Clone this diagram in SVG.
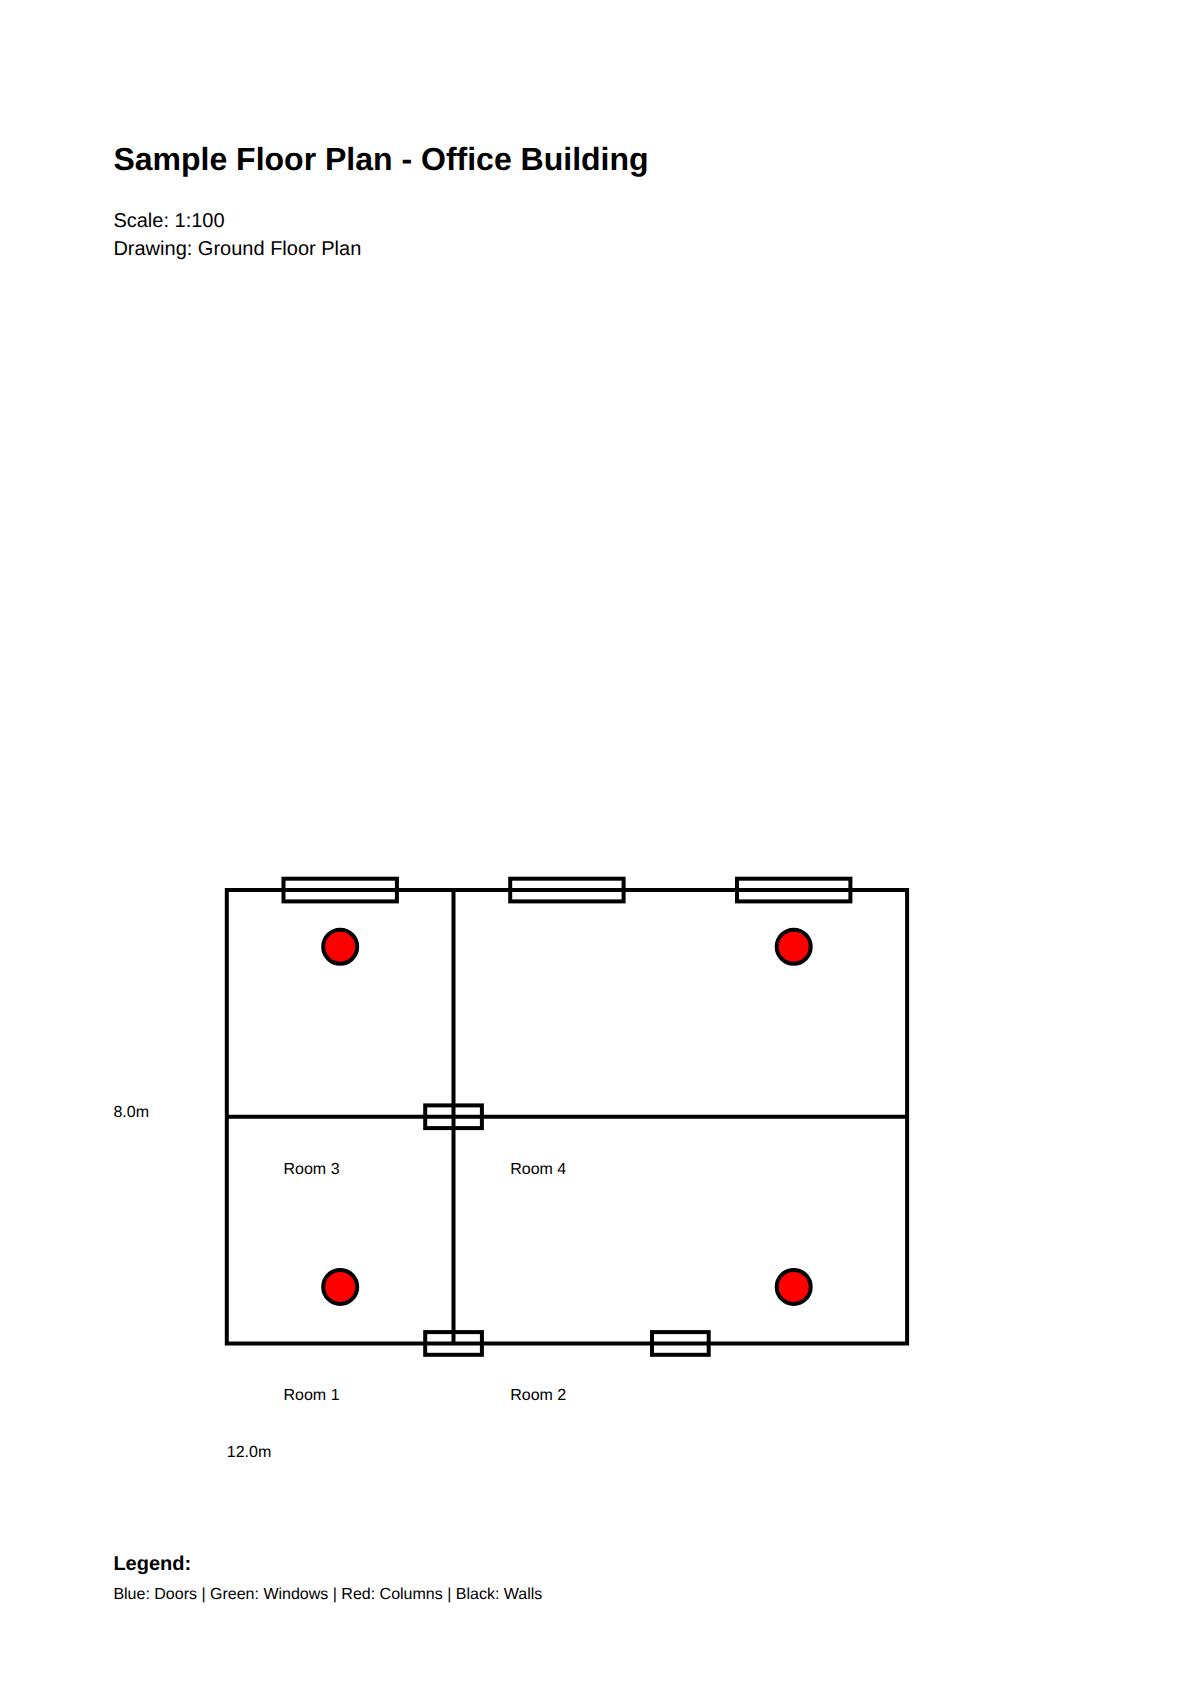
<svg xmlns="http://www.w3.org/2000/svg" width="1191" height="1684" viewBox="0 0 1191 1684">
<style>
text{font-family:"Liberation Sans",Arial,sans-serif;fill:#000;text-rendering:geometricPrecision}
.t{font-size:32px;font-weight:bold}
.s{font-size:20px}
.l{font-size:16px}
.h{font-size:20px;font-weight:bold}
.w{fill:none;stroke:#000;stroke-width:4}
.c{fill:#f00;stroke:#000;stroke-width:4}
</style>
<rect width="1191" height="1684" fill="#fff"/>
<text class="t" x="113.4" y="170">Sample Floor Plan - Office Building</text>
<text class="s" x="113.4" y="227">Scale: 1:100</text>
<text class="s" x="113.4" y="255">Drawing: Ground Floor Plan</text>
<g id="walls">
<rect class="w" x="226.8" y="890" width="680.3" height="453.5"/>
<line class="w" x1="453.5" y1="890" x2="453.5" y2="1343.5"/>
<line class="w" x1="226.8" y1="1116.8" x2="907.1" y2="1116.8"/>
</g>
<g id="doors">
<rect class="w" x="425.2" y="1105.4" width="56.7" height="22.7"/>
<rect class="w" x="425.2" y="1332.1" width="56.7" height="22.7"/>
<rect class="w" x="652" y="1332.1" width="56.7" height="22.7"/>
</g>
<g id="windows">
<rect class="w" x="283.5" y="878.7" width="113.4" height="22.7"/>
<rect class="w" x="510.2" y="878.7" width="113.4" height="22.7"/>
<rect class="w" x="737" y="878.7" width="113.4" height="22.7"/>
</g>
<g id="columns">
<circle class="c" cx="340.2" cy="946.7" r="17"/>
<circle class="c" cx="793.7" cy="946.7" r="17"/>
<circle class="c" cx="340.2" cy="1286.9" r="17"/>
<circle class="c" cx="793.7" cy="1286.9" r="17"/>
</g>
<g id="labels">
<text class="l" x="283.5" y="1174">Room 3</text>
<text class="l" x="510.2" y="1174">Room 4</text>
<text class="l" x="283.5" y="1400">Room 1</text>
<text class="l" x="510.2" y="1400">Room 2</text>
<text class="l" x="113.4" y="1117">8.0m</text>
<text class="l" x="226.8" y="1457">12.0m</text>
</g>
<text class="h" x="113.4" y="1570">Legend:</text>
<text class="l" x="113.4" y="1599">Blue: Doors | Green: Windows | Red: Columns | Black: Walls</text>
</svg>
